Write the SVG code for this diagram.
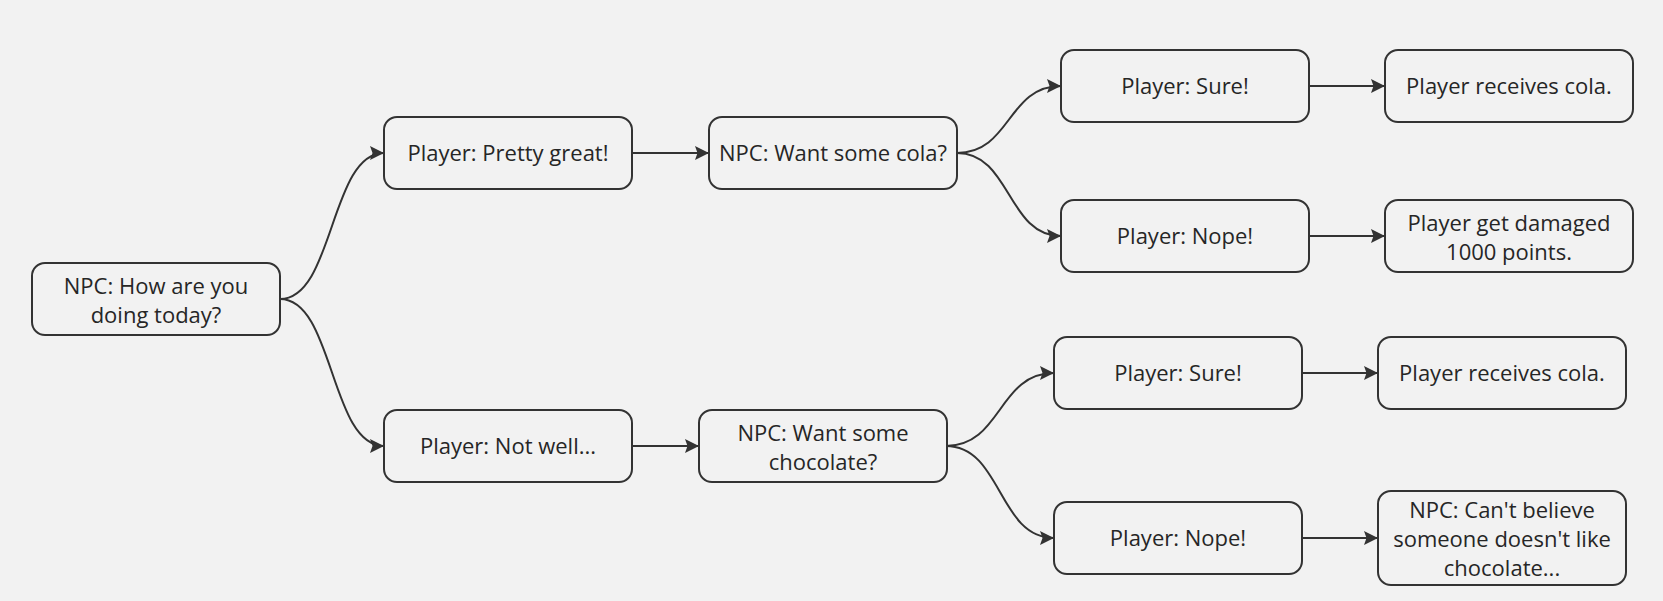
<svg xmlns="http://www.w3.org/2000/svg" width="1663" height="601" viewBox="0 0 1663 601">
<defs>
<marker id="arr" markerUnits="userSpaceOnUse" markerWidth="16" markerHeight="16" refX="14" refY="7" orient="auto">
<path d="M0,0 L14,7 L0,14 L2.5,7 z" fill="#333333"/>
</marker>
<style>
.box{fill:#f2f2f2;stroke:#333333;stroke-width:2}
.t{font-family:"Open Sans","Noto Sans","DejaVu Sans",sans-serif;font-size:22px;fill:#262626;text-anchor:middle}
.c{fill:none;stroke:#333333;stroke-width:2;marker-end:url(#arr)}
</style>
</defs>
<rect width="1663" height="601" fill="#f2f2f2"/>
<g id="connectors">
<path class="c" d="M280,299 C334,299 330,153 384,153"/>
<path class="c" d="M280,299 C334,299 330,446 384,446"/>
<path class="c" d="M632,153 L709,153"/>
<path class="c" d="M632,446 L699,446"/>
<path class="c" d="M957,153 C1011,153 1007,86 1061,86"/>
<path class="c" d="M957,153 C1011,153 1007,236 1061,236"/>
<path class="c" d="M946,446 C1002,446 998,373 1054,373"/>
<path class="c" d="M946,446 C1002,446 998,538 1054,538"/>
<path class="c" d="M1309,86 L1385,86"/>
<path class="c" d="M1309,236 L1385,236"/>
<path class="c" d="M1302,373 L1378,373"/>
<path class="c" d="M1302,538 L1378,538"/>
</g>
<g id="nodeA"><rect class="box" x="32" y="263" width="248" height="72" rx="13"/><text class="t" x="156" y="294">NPC: How are you</text><text class="t" x="156" y="323">doing today?</text></g>
<g id="nodeB"><rect class="box" x="384" y="117" width="248" height="72" rx="13"/><text class="t" x="508" y="161">Player: Pretty great!</text></g>
<g id="nodeC"><rect class="box" x="384" y="410" width="248" height="72" rx="13"/><text class="t" x="508" y="454">Player: Not well...</text></g>
<g id="nodeD"><rect class="box" x="709" y="117" width="248" height="72" rx="13"/><text class="t" x="833" y="161">NPC: Want some cola?</text></g>
<g id="nodeE"><rect class="box" x="699" y="410" width="248" height="72" rx="13"/><text class="t" x="823" y="441">NPC: Want some</text><text class="t" x="823" y="470">chocolate?</text></g>
<g id="nodeF"><rect class="box" x="1061" y="50" width="248" height="72" rx="13"/><text class="t" x="1185" y="94">Player: Sure!</text></g>
<g id="nodeG"><rect class="box" x="1061" y="200" width="248" height="72" rx="13"/><text class="t" x="1185" y="244">Player: Nope!</text></g>
<g id="nodeH"><rect class="box" x="1385" y="50" width="248" height="72" rx="13"/><text class="t" x="1509" y="94">Player receives cola.</text></g>
<g id="nodeI"><rect class="box" x="1385" y="200" width="248" height="72" rx="13"/><text class="t" x="1509" y="231">Player get damaged</text><text class="t" x="1509" y="260">1000 points.</text></g>
<g id="nodeJ"><rect class="box" x="1054" y="337" width="248" height="72" rx="13"/><text class="t" x="1178" y="381">Player: Sure!</text></g>
<g id="nodeK"><rect class="box" x="1054" y="502" width="248" height="72" rx="13"/><text class="t" x="1178" y="546">Player: Nope!</text></g>
<g id="nodeL"><rect class="box" x="1378" y="337" width="248" height="72" rx="13"/><text class="t" x="1502" y="381">Player receives cola.</text></g>
<g id="nodeM"><rect class="box" x="1378" y="491" width="248" height="94" rx="13"/><text class="t" x="1502" y="518">NPC: Can't believe</text><text class="t" x="1502" y="547">someone doesn't like</text><text class="t" x="1502" y="576">chocolate...</text></g>
</svg>
